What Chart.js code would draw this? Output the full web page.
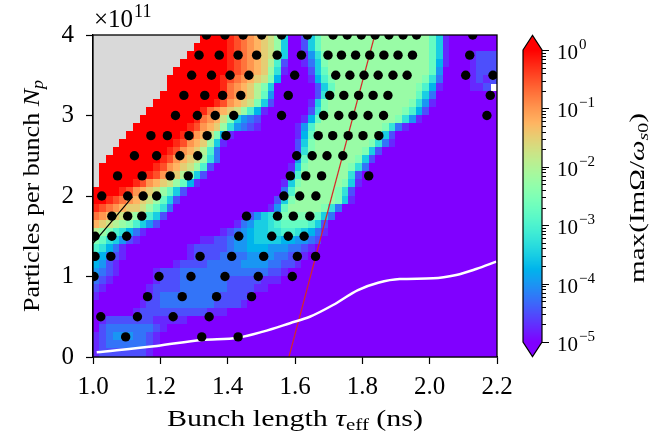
<!DOCTYPE html>
<html>
<head>
<meta charset="utf-8">
<script src="https://cdn.jsdelivr.net/npm/chart.js@4.4.1/dist/chart.umd.min.js"></script>
<style>
  html, body { margin: 0; padding: 0; background: #fff; }
  #wrap { position: relative; width: 670px; height: 438px; }
  #wrap canvas { position: absolute; left: 0; top: 0; }
</style>
</head>
<body>
<div id="wrap">
  <canvas id="mainChart" width="670" height="438"></canvas>
  <canvas id="barChart" width="670" height="438"></canvas>
</div>
<script>
// Growth-rate map: cells of 0.02 ns (tau) by 0.1e11 (Np), rows listed from Np = 4 downwards.
// One letter per cell, run-length coded: a = 1e-5, each next letter +0.25 decade, u = 1e0; '.' = no data
const gridTauStart = 1.0, gridTauStep = 0.02;
const gridNpStart = 4.0, gridNpStep = 0.1;
const growthRows = [
  '16.4utsrqponlg2acgj16ljgb7a',
  '15.5utsrqponlg2acgj16ljgb7a',
  '14.6utsrqponlg2abehk15ljgb3ab3c',
  '13.7utsrqpomic2abdgk15ljfb3abc2c',
  '12.8utsrqpolhb2aacgj15ljea3abc2c',
  '11.8utsrqponkf4abfik13lkhd4abcbc',
  '11.8utrqpomkg6acgj12lkifb4a2bc',
  '10.9utrqpomje6achk12ljgd9a',
  '9.9utsqponkgc5abgk12lkheb9a',
  '8.8utrqponlifb6achk11lkifc10a',
  '7.8utrqpnkgedc6abfj11lkheb11a',
  '6.8utsqpolhedcb5abei10lkhdb13a',
  '5.8utsqpnkfb9abfj9lkgc15a',
  '4.8utsqpolgb10acgk8lkhdb15a',
  '3.8utsqpomid11achk7lkgc17a',
  '2.8utsqponlhd11aej7lkgc18a',
  '.8utsqponlic11abgk6lkhd19a',
  '.7utsqpomkgc12aci7lhc20a',
  '.5utsqponljfb12abgk6lkgb20a',
  '4utsqponljgc14adi6lkhc21a',
  '2utsrqponljgc14acgk6lkgb21a',
  'tsrqp2onljhd14abej5lkhd23a',
  'rqponmlkigc12aceghj5kjgd24a',
  'ponmlkigec11abdegghi4jigc25a',
  'mlkihfdb11abcdefgghhiihgfdb25a',
  'kjhgecb9a2b2cd2ef4g2f2edc26a',
  'ihfdb9ab5cd2e3f3e2dcb27a',
  'gfdcb9ab4c4d4e2d2cb28a',
  'fecb8ab4c5d4e2d2cb29a',
  'edcb5ab3c13d2cb31a',
  'dcb6ab3c7d5c3b32a',
  'cb6ab4c7d4c2b34a',
  'b7abc9d4cb36a',
  '7ab2c8d4cb37a',
  '6ab10c3b40a',
  'ab7c5b46a',
  'ac7dcb49a',
  'bcd3e2dcb50a',
  'bc6dcb50a',
  'b7cb51a'
];

// Unstable cases (black dots): one list of bunch lengths per intensity row
const dotNp = [4.0, 3.75, 3.5, 3.25, 3.0, 2.75, 2.5, 2.25, 2.0, 1.75, 1.5, 1.25, 1.0, 0.75, 0.5, 0.25];
const dotTau = [
  [1.337, 1.392, 1.446, 1.501, 1.560, 1.637, 1.713, 1.755, 1.797, 1.838, 1.879, 1.921, 1.961, 2.128],
  [1.315, 1.375, 1.431, 1.486, 1.547, 1.619, 1.698, 1.738, 1.780, 1.822, 1.864, 1.906, 1.949, 2.119],
  [1.293, 1.352, 1.407, 1.463, 1.599, 1.721, 1.763, 1.805, 1.847, 1.891, 1.933, 2.107, 2.188],
  [1.270, 1.332, 1.385, 1.439, 1.580, 1.703, 1.745, 1.789, 1.832, 1.876, 2.180],
  [1.245, 1.310, 1.363, 1.418, 1.560, 1.685, 1.730, 1.772, 1.817, 1.863, 2.170],
  [1.172, 1.221, 1.285, 1.339, 1.395, 1.669, 1.712, 1.758, 1.802, 1.849],
  [1.123, 1.189, 1.258, 1.311, 1.605, 1.651, 1.695, 1.742],
  [1.073, 1.146, 1.229, 1.283, 1.586, 1.632, 1.679, 1.819],
  [1.026, 1.103, 1.149, 1.189, 1.567, 1.614, 1.662],
  [1.056, 1.103, 1.145, 1.456, 1.548, 1.595, 1.644],
  [1.006, 1.056, 1.100, 1.433, 1.531, 1.580, 1.627],
  [1.006, 1.053, 1.318, 1.412, 1.507, 1.607, 1.661],
  [1.003, 1.196, 1.291, 1.392, 1.491, 1.592],
  [1.162, 1.265, 1.367, 1.471],
  [1.023, 1.132, 1.238, 1.345],
  [1.097, 1.323, 1.431]
];

// Threshold curve (white)
const whiteTau = [1.011, 1.189, 1.323, 1.431, 1.505, 1.585, 1.644, 1.713, 1.787, 1.847, 1.911, 2.010, 2.079, 2.138, 2.198];
const whiteNp  = [0.058, 0.137, 0.211, 0.240, 0.315, 0.420, 0.500, 0.646, 0.832, 0.923, 0.969, 0.977, 1.019, 1.093, 1.184];
// Red line
const redTau = [1.582, 1.837];
const redNp  = [0.0, 4.0];
// Black line
const blackTau = [1.0, 1.118];
const blackNp  = [1.412, 1.991];

// Axis ticks and colour bar decades
const tauTicks = { min: 1.0, max: 2.2, step: 0.2 };
const npTicks = { min: 0, max: 4, step: 1 };
const cbExponents = [-5, -4, -3, -2, -1, 0];

const serif = "'Liberation Serif', 'DejaVu Serif', serif";

function expandRow(code) {
    let out = '';
    code.replace(/(\d*)([a-u.])/g, (m, n, ch) => { out += ch.repeat(n ? parseInt(n) : 1); return m; });
    return out;
}
const growthGrid = growthRows.map(expandRow);

// matplotlib "rainbow" colormap
function rainbow(t) {
    t = Math.min(1, Math.max(0, t));
    const r = Math.min(1, Math.abs(2 * t - 0.5));
    const g = Math.sin(Math.PI * t);
    const b = Math.cos(Math.PI * t / 2);
    return `rgb(${Math.round(r * 255)},${Math.round(g * 255)},${Math.round(b * 255)})`;
}
const cbLo = cbExponents[0], cbHi = cbExponents[cbExponents.length - 1];

function cellColor(ch) {
    if (ch === '.') return '#d9d9d9';
    const decade = -5 + (ch.charCodeAt(0) - 97) * 0.25;
    return rainbow((decade - cbLo) / (cbHi - cbLo));
}

// draw a row of text pieces (normal / italic / sub) centred at cx, optionally stretched to a width
function drawRuns(ctx, runs, cx, baseline, targetWidth) {
    let total = 0;
    runs.forEach(r => { ctx.font = r.font; r.w = ctx.measureText(r.text).width; total += r.w; });
    const sx = targetWidth ? targetWidth / total : 1;
    ctx.save();
    ctx.translate(cx, baseline);
    ctx.scale(sx, 1);
    let x = -total / 2;
    runs.forEach(r => {
        ctx.font = r.font;
        ctx.fillText(r.text, x, r.dy || 0);
        x += r.w;
    });
    ctx.restore();
}

const heatmapPlugin = {
    id: 'heatmap',
    beforeDatasetsDraw(chart) {
        const { ctx, chartArea: ca, scales: { x, y } } = chart;
        ctx.save();
        ctx.beginPath();
        ctx.rect(ca.left, ca.top, ca.right - ca.left, ca.bottom - ca.top);
        ctx.clip();
        growthGrid.forEach((row, j) => {
            const yTop = y.getPixelForValue(gridNpStart - j * gridNpStep);
            const yBot = y.getPixelForValue(gridNpStart - (j + 1) * gridNpStep);
            for (let i = 0; i < row.length; i++) {
                const xL = x.getPixelForValue(gridTauStart + i * gridTauStep);
                const xR = x.getPixelForValue(gridTauStart + (i + 1) * gridTauStep);
                ctx.fillStyle = cellColor(row[i]);
                ctx.fillRect(Math.floor(xL), Math.floor(yTop),
                    Math.ceil(xR) - Math.floor(xL), Math.ceil(yBot) - Math.floor(yTop));
            }
        });
        ctx.restore();
    }
};

const labelsPlugin = {
    id: 'labels',
    afterDraw(chart) {
        const { ctx, chartArea: ca } = chart;
        ctx.save();
        // frame
        ctx.strokeStyle = '#000';
        ctx.lineWidth = 1.3;
        ctx.strokeRect(ca.left, ca.top, ca.right - ca.left, ca.bottom - ca.top);
        ctx.fillStyle = '#000';
        ctx.textBaseline = 'alphabetic';
        ctx.textAlign = 'left';
        // x title
        drawRuns(ctx, [
            { text: 'Bunch length ', font: `23px ${serif}` },
            { text: '\u03C4', font: `italic 23px ${serif}` },
            { text: 'eff', font: `16px ${serif}`, dy: 4 },
            { text: ' (ns)', font: `23px ${serif}` }
        ], (ca.left + ca.right) / 2, ca.bottom + 69, 256);
        // y title
        ctx.save();
        ctx.translate(39, (ca.top + ca.bottom) / 2);
        ctx.rotate(-Math.PI / 2);
        drawRuns(ctx, [
            { text: 'Particles per bunch ', font: `23px ${serif}` },
            { text: 'N', font: `italic 23px ${serif}` },
            { text: 'p', font: `italic 16px ${serif}`, dy: 4 }
        ], 0, 0, 232);
        ctx.restore();
        // offset text
        ctx.font = `25px ${serif}`;
        ctx.fillText('\u00D710', ca.left + 1, ca.top - 8);
        const w = ctx.measureText('\u00D710').width;
        ctx.font = `18px ${serif}`;
        ctx.fillText('11', ca.left + 1 + w + 1, ca.top - 18);
        ctx.restore();
    }
};

const colorbarPlugin = {
    id: 'colorbar',
    afterDraw(chart) {
        const { ctx, chartArea: ca } = chart;
        const sc = chart.scales.y;
        const ext = 0.05 * (ca.bottom - ca.top);
        const cx = (ca.left + ca.right) / 2;
        ctx.save();
        for (let py = Math.floor(ca.top); py < ca.bottom; py++) {
            const v = sc.getValueForPixel(py + 0.5);
            ctx.fillStyle = rainbow((Math.log10(v) - cbLo) / (cbHi - cbLo));
            ctx.fillRect(ca.left, py, ca.right - ca.left, 1);
        }
        ctx.fillStyle = rainbow(1);
        ctx.beginPath();
        ctx.moveTo(ca.left, ca.top); ctx.lineTo(cx, ca.top - ext); ctx.lineTo(ca.right, ca.top);
        ctx.closePath(); ctx.fill();
        ctx.fillStyle = rainbow(0);
        ctx.beginPath();
        ctx.moveTo(ca.left, ca.bottom); ctx.lineTo(cx, ca.bottom + ext); ctx.lineTo(ca.right, ca.bottom);
        ctx.closePath(); ctx.fill();
        ctx.strokeStyle = '#000';
        ctx.lineWidth = 1.2;
        ctx.beginPath();
        ctx.moveTo(ca.left, ca.top); ctx.lineTo(cx, ca.top - ext); ctx.lineTo(ca.right, ca.top);
        ctx.lineTo(ca.right, ca.bottom); ctx.lineTo(cx, ca.bottom + ext); ctx.lineTo(ca.left, ca.bottom);
        ctx.closePath(); ctx.stroke();
        // ticks
        ctx.lineWidth = 1;
        cbExponents.forEach(k => {
            const py = Math.round(sc.getPixelForValue(Math.pow(10, k))) + 0.5;
            ctx.beginPath(); ctx.moveTo(ca.right, py); ctx.lineTo(ca.right + 7, py); ctx.stroke();
            if (k < cbHi) {
                for (let m = 2; m <= 9; m++) {
                    const pm = Math.round(sc.getPixelForValue(m * Math.pow(10, k))) + 0.5;
                    ctx.beginPath(); ctx.moveTo(ca.right, pm); ctx.lineTo(ca.right + 4, pm); ctx.stroke();
                }
            }
            ctx.fillStyle = '#000';
            ctx.textAlign = 'left';
            ctx.textBaseline = 'alphabetic';
            ctx.font = `21px ${serif}`;
            const lx = ca.right + 15;
            ctx.fillText('10', lx, py + 8);
            const w = ctx.measureText('10').width;
            ctx.font = `15px ${serif}`;
            ctx.fillText(k === 0 ? '0' : '\u2212' + (-k), lx + w + 1, py - 2);
        });
        // colour bar label
        ctx.save();
        ctx.translate(644, 198);
        ctx.rotate(-Math.PI / 2);
        drawRuns(ctx, [
            { text: 'max(Im\u03A9/', font: `22px ${serif}` },
            { text: '\u03C9', font: `italic 22px ${serif}` },
            { text: 's', font: `italic 15px ${serif}`, dy: 4 },
            { text: '0', font: `15px ${serif}`, dy: 4 },
            { text: ')', font: `22px ${serif}` }
        ], 0, 0, 170);
        ctx.restore();
        ctx.restore();
    }
};

const dotPoints = [];
dotNp.forEach((np, r) => dotTau[r].forEach(t => dotPoints.push({ x: t, y: np })));
const toPoints = (xs, ys) => xs.map((v, i) => ({ x: v, y: ys[i] }));

const mainChart = new Chart(document.getElementById('mainChart'), {
    type: 'scatter',
    data: {
        datasets: [
            {
                label: 'Unstable',
                data: dotPoints,
                backgroundColor: '#000',
                borderWidth: 0,
                pointRadius: 4.7,
                clip: 0,
                order: 0
            },
            {
                type: 'line',
                label: 'Threshold',
                data: toPoints(whiteTau, whiteNp),
                borderColor: '#fff',
                borderWidth: 2.5,
                pointRadius: 0,
                fill: false,
                cubicInterpolationMode: 'monotone',
                clip: 0,
                order: 1
            },
            {
                type: 'line',
                label: 'Red',
                data: toPoints(redTau, redNp),
                borderColor: '#d62728',
                borderWidth: 1.2,
                pointRadius: 0,
                fill: false,
                clip: 0,
                order: 2
            },
            {
                type: 'line',
                label: 'Black',
                data: toPoints(blackTau, blackNp),
                borderColor: '#000',
                borderWidth: 1.2,
                pointRadius: 0,
                fill: false,
                clip: 0,
                order: 3
            }
        ]
    },
    options: {
        responsive: false,
        animation: false,
        events: [],
        layout: { padding: { left: 0, top: 35, right: 173, bottom: 0 } },
        plugins: { legend: { display: false }, tooltip: { enabled: false } },
        scales: {
            x: {
                type: 'linear',
                min: tauTicks.min,
                max: tauTicks.max,
                afterFit: s => { s.height = 81; },
                ticks: {
                    stepSize: tauTicks.step,
                    callback: v => v.toFixed(1),
                    font: { family: serif, size: 25 },
                    color: '#000',
                    padding: 8,
                    maxRotation: 0
                },
                grid: { display: true, drawOnChartArea: false, drawTicks: true, tickLength: 7, tickColor: '#000', tickWidth: 1.2 },
                border: { display: true, color: '#000', width: 1.3 }
            },
            y: {
                type: 'linear',
                min: npTicks.min,
                max: npTicks.max,
                afterFit: s => { s.width = 93; },
                ticks: {
                    stepSize: npTicks.step,
                    font: { family: serif, size: 25 },
                    color: '#000',
                    padding: 12
                },
                grid: { display: true, drawOnChartArea: false, drawTicks: true, tickLength: 7, tickColor: '#000', tickWidth: 1.2 },
                border: { display: true, color: '#000', width: 1.3 }
            }
        }
    },
    plugins: [heatmapPlugin, labelsPlugin]
});

const barChart = new Chart(document.getElementById('barChart'), {
    type: 'scatter',
    data: { datasets: [] },
    options: {
        responsive: false,
        animation: false,
        events: [],
        layout: { padding: { left: 523, right: 128, top: 50, bottom: 96 } },
        plugins: { legend: { display: false }, tooltip: { enabled: false } },
        scales: {
            x: { display: false },
            y: {
                type: 'logarithmic',
                min: Math.pow(10, cbLo),
                max: Math.pow(10, cbHi),
                afterFit: s => { s.width = 0; },
                ticks: { display: false },
                grid: { display: false },
                border: { display: false }
            }
        }
    },
    plugins: [colorbarPlugin]
});
</script>
</body>
</html>
